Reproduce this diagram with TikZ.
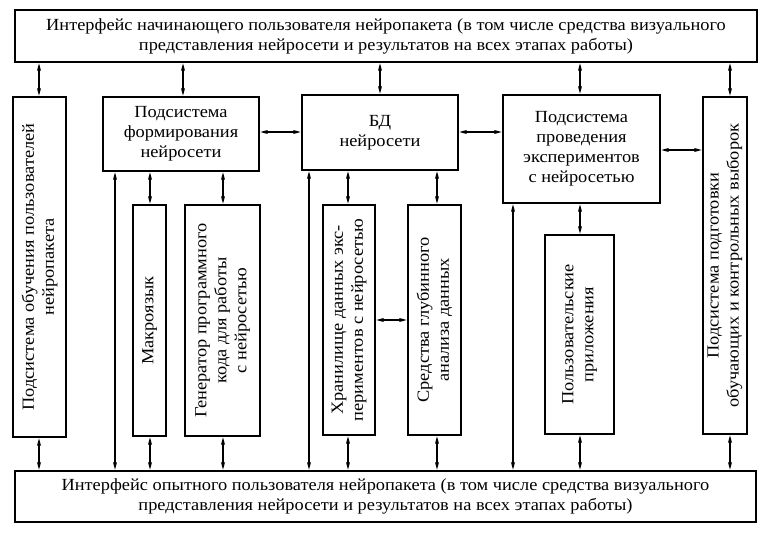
\documentclass[tikz,border=0pt]{standalone}
\usepackage{fontspec}
\setmainfont[FakeStretch=1.08]{Liberation Serif}
\usetikzlibrary{arrows.meta}

\begin{document}
\begin{tikzpicture}[x=1pt,y=-1pt,
	box/.style={draw,line width=1.6pt,inner sep=0pt,align=center,
		font=\fontsize{17}{20}\selectfont},
	vbox/.style={box,rotate=90},
	link/.style={line width=1.4pt,{Triangle[angle=25:5pt,scale=1.6]}-{Triangle[angle=25:5pt,scale=1.6]}}]
	\useasboundingbox (0,0) rectangle (769,536);
	% interfaces
	\node[box,minimum width=742pt,minimum height=52pt] (I1) at (386,36)
		{Интерфейс начинающего пользователя нейропакета (в том числе средства визуального\\
		 представления нейросети и результатов на всех этапах работы)};
	\node[box,minimum width=741pt,minimum height=51pt] (I2) at (385.5,496.5)
		{Интерфейс опытного пользователя нейропакета (в том числе средства визуального\\
		 представления нейросети и результатов на всех этапах работы)};
	% subsystems
	\node[vbox,minimum width=340pt,minimum height=53pt] (L) at (39.5,267)
		{Подсистема обучения пользователей\\нейропакета};
	\node[box,minimum width=156pt,minimum height=74pt] (F) at (181,134)
		{Подсистема\\формирования\\нейросети};
	\node[vbox,minimum width=231pt,minimum height=33pt] (M) at (149.5,320.5)
		{Макроязык};
	\node[vbox,minimum width=231pt,minimum height=75pt] (G) at (222.5,320.5)
		{Генератор программного\\кода для работы\\с нейросетью};
	\node[box,minimum width=156pt,minimum height=75pt] (BD) at (380,132.5)
		{БД\\нейросети};
	\node[vbox,minimum width=230pt,minimum height=52pt] (H) at (349,320)
		{Хранилище данных экс-\\периментов с нейросетью};
	\node[vbox,minimum width=230pt,minimum height=53pt] (S) at (434.5,320)
		{Средства глубинного\\анализа данных};
	\node[box,minimum width=157pt,minimum height=108pt] (E) at (581.5,149)
		{Подсистема\\проведения\\экспериментов\\с нейросетью};
	\node[vbox,minimum width=199pt,minimum height=69pt] (P) at (579.5,334.5)
		{Пользовательские\\приложения};
	\node[vbox,minimum width=337pt,minimum height=44pt] (T) at (725,265.5)
		{Подсистема подготовки\\обучающих и контрольных выборок};
	% links to the top interface
	\draw[link] (I1.south -| 39,0) -- (L.east -| 39,0);
	\draw[link] (I1.south -| 183,0) -- (F.north -| 183,0);
	\draw[link] (I1.south -| 380,0) -- (BD.north -| 380,0);
	\draw[link] (I1.south -| 580,0) -- (E.north -| 580,0);
	\draw[link] (I1.south -| 730,0) -- (T.east -| 730,0);
	% links between subsystems
	\draw[link] (F.east |- 0,132) -- (BD.west |- 0,132);
	\draw[link] (BD.east |- 0,132) -- (E.west |- 0,132);
	\draw[link] (E.east |- 0,150) -- (T.north |- 0,150);
	\draw[link] (F.south -| 150,0) -- (M.east -| 150,0);
	\draw[link] (F.south -| 223,0) -- (G.east -| 223,0);
	\draw[link] (BD.south -| 348,0) -- (H.east -| 348,0);
	\draw[link] (BD.south -| 437,0) -- (S.east -| 437,0);
	\draw[link] (H.south |- 0,320) -- (S.north |- 0,320);
	\draw[link] (E.south -| 580,0) -- (P.east -| 580,0);
	% links to the bottom interface
	\draw[link] (L.west -| 39,0) -- (I2.north -| 39,0);
	\draw[link] (F.south -| 115,0) -- (I2.north -| 115,0);
	\draw[link] (M.west -| 150,0) -- (I2.north -| 150,0);
	\draw[link] (G.west -| 223,0) -- (I2.north -| 223,0);
	\draw[link] (BD.south -| 309,0) -- (I2.north -| 309,0);
	\draw[link] (H.west -| 348,0) -- (I2.north -| 348,0);
	\draw[link] (S.west -| 437,0) -- (I2.north -| 437,0);
	\draw[link] (E.south -| 513,0) -- (I2.north -| 513,0);
	\draw[link] (P.west -| 580,0) -- (I2.north -| 580,0);
	\draw[link] (T.west -| 730,0) -- (I2.north -| 730,0);
\end{tikzpicture}
\end{document}
